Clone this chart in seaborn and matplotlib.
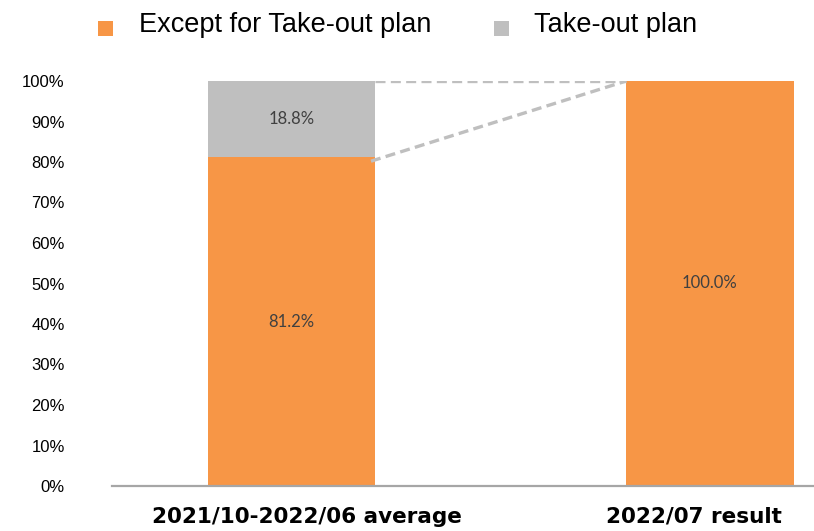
import matplotlib
matplotlib.use("Agg")
import matplotlib.pyplot as plt
import matplotlib.transforms as mtransforms
import seaborn as sns
import pandas as pd
from matplotlib.patches import Patch, Rectangle
from matplotlib.legend_handler import HandlerPatch
from matplotlib.ticker import PercentFormatter

categories = ["2021/10-2022/06 average", "2022/07 result"]
except_takeout = [81.2, 100.0]
takeout = [18.8, 0.0]
series_names = ["Except for Take-out plan", "Take-out plan"]
yticks = [0, 10, 20, 30, 40, 50, 60, 70, 80, 90, 100]

ORANGE = "#F79646"
GRAY = "#BFBFBF"

sns.set_style("white")
plt.rcParams["font.family"] = ["Liberation Sans", "DejaVu Sans"]
plt.rcParams["text.color"] = "black"
plt.rcParams["xtick.color"] = "black"
plt.rcParams["ytick.color"] = "black"

df = pd.DataFrame({
    "category": categories,
    "except": except_takeout,
    "takeout": takeout,
})
df["total"] = df["except"] + df["takeout"]

fig = plt.figure(figsize=(8.14, 5.31), dpi=100)
ax = fig.add_axes([112 / 814, 1 - 486 / 531, 1 - 112 / 814, (486 - 81) / 531])

sns.barplot(data=df, x="category", y="total", color=GRAY, width=0.4,
            saturation=1, ax=ax, linewidth=0)
sns.barplot(data=df, x="category", y="except", color=ORANGE, width=0.4,
            saturation=1, ax=ax, linewidth=0)

ax.set_xlim(-0.429, 1.249)
ax.set_ylim(0, 100)
ax.set_yticks(yticks)
ax.yaxis.set_major_formatter(PercentFormatter(decimals=0))
ax.set_xlabel("")
ax.set_ylabel("")

for s in ["top", "right", "left"]:
    ax.spines[s].set_visible(False)
ax.spines["bottom"].set_color("#A6A6A6")
ax.spines["bottom"].set_linewidth(1.6)

ax.tick_params(axis="y", length=0, pad=34, labelsize=12, labelcolor="black")
ax.tick_params(axis="x", length=0, pad=15, labelcolor="black")
shifts = [15, -16]
for lab, dx in zip(ax.get_xticklabels(), shifts):
    lab.set_fontfamily("DejaVu Sans")
    lab.set_fontweight("bold")
    lab.set_fontsize(15.5)
    lab.set_transform(lab.get_transform() +
                      mtransforms.ScaledTranslation(dx / 100, 0, fig.dpi_scale_trans))

# data labels
lblcolor = "#404040"
for i, (e, t) in enumerate(zip(except_takeout, takeout)):
    if e > 0:
        ax.text(i, e / 2, f"{e:.1f}%", ha="center", va="center",
                fontsize=12, color=lblcolor, family="Lato")
    if t > 0:
        ax.text(i, e + t / 2, f"{t:.1f}%", ha="center", va="center",
                fontsize=12, color=lblcolor, family="Lato")

# connector dashed lines
half = 0.2
tot0 = except_takeout[0] + takeout[0]
tot1 = except_takeout[1] + takeout[1]
ax.plot([0 + half, 1 - half], [tot0, tot1], ls=(0, (3, 1.6)), color=GRAY, lw=2.4,
        zorder=1)
ax.plot([0 + half - 0.01, 1 - half], [except_takeout[0] - 1, tot1], ls=(0, (3, 1.6)),
        color=GRAY, lw=2.4, zorder=1)


def make_square(legend, orig_handle, xdescent, ydescent, width, height, fontsize):
    return Rectangle((-xdescent, -ydescent - 4.0), width, width)


handles = [Patch(facecolor=ORANGE, edgecolor="none"),
           Patch(facecolor=GRAY, edgecolor="none")]
fig.legend(handles, series_names, loc="center", ncol=2, frameon=False,
           bbox_to_anchor=(398 / 814, 1 - 25 / 531), fontsize=19.5,
           handlelength=0.55, handleheight=0.55, handletextpad=0.95,
           columnspacing=2.3,
           handler_map={Patch: HandlerPatch(patch_func=make_square)})

fig.savefig("out.png", dpi=100)
